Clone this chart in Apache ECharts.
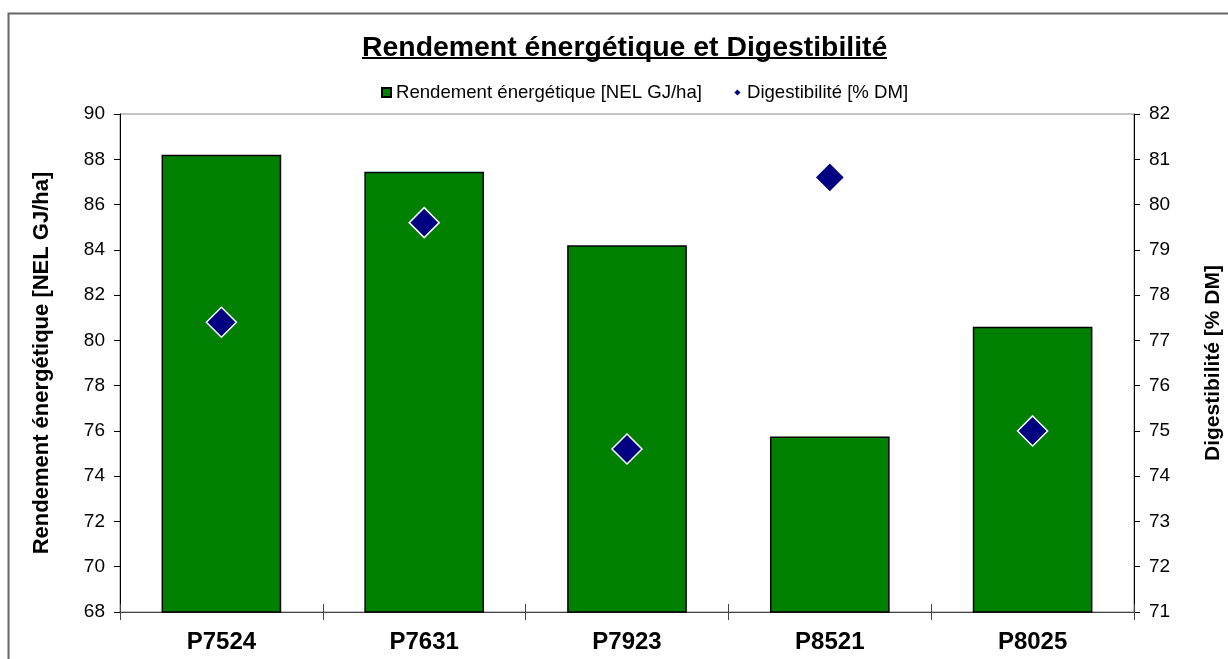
<!DOCTYPE html>
<html>
<head>
<meta charset="utf-8">
<script src="https://cdn.jsdelivr.net/npm/echarts@6/dist/echarts.min.js"></script>
<style>
  html, body { margin: 0; padding: 0; background: #fff; }
  #chart { width: 1228px; height: 659px; }
</style>
</head>
<body>
<div id="chart"></div>
<script>
// données
var varieties = ["P7524", "P7631", "P7923", "P8521", "P8025"];
var rendement = [88.2, 87.45, 84.2, 75.75, 80.6];      // NEL GJ/ha
var digestibilite = [77.4, 79.6, 74.6, 80.6, 75.0];    // % DM
var leftTicks = { min: 68, max: 90, interval: 2 };
var rightTicks = { min: 71, max: 82, interval: 1 };

var font = "Liberation Sans, Arial, sans-serif";

var chart = echarts.init(document.getElementById("chart"));

var option = {
    backgroundColor: "#fff",
    animation: false,
    textStyle: { fontFamily: font },
    title: {
        text: "Rendement énergétique et Digestibilité",
        left: 357,
        top: 29,
        textStyle: { fontFamily: font, fontSize: 28.4, fontWeight: "bold", color: "#000" }
    },
    legend: {
        top: 78,
        left: 376,
        itemWidth: 9,
        itemHeight: 9,
        itemGap: 30,
        textStyle: { fontFamily: font, fontSize: 18.6, color: "#000" },
        data: [
            { name: "Rendement énergétique [NEL GJ/ha]", icon: "rect" },
            { name: "Digestibilité [% DM]", icon: "diamond" }
        ]
    },
    grid: {
        left: 120,
        right: 94,
        top: 114,
        bottom: 47,
        outerBoundsMode: "none",
        show: true,
        borderColor: "#888",
        borderWidth: 1
    },
    graphic: [
        {
            type: "rect",
            shape: { x: 8.5, y: 13.5, width: 1300, height: 700 },
            style: { fill: null, stroke: "#666", lineWidth: 2 },
            silent: true,
            z: -10
        },
        {
            type: "line",
            shape: { x1: 362, y1: 58, x2: 887, y2: 58 },
            style: { stroke: "#000", lineWidth: 2 },
            silent: true
        }
    ],
    xAxis: [
        {
            type: "category",
            data: varieties,
            axisLine: { lineStyle: { color: "#444", width: 1 } },
            axisTick: { show: true, length: 8, lineStyle: { color: "#444" } },
            axisLabel: {
                fontFamily: font, fontSize: 24, fontWeight: "bold", color: "#000", margin: 18
            }
        },
        {
            // ticks crossing the axis upward, as in the original
            type: "category",
            data: varieties,
            position: "bottom",
            axisLine: { show: false },
            axisTick: { show: true, inside: true, length: 8, lineStyle: { color: "#444" } },
            axisLabel: { show: false }
        }
    ],
    yAxis: [
        {
            type: "value",
            min: leftTicks.min,
            max: leftTicks.max,
            interval: leftTicks.interval,
            name: "Rendement énergétique [NEL GJ/ha]",
            nameLocation: "middle",
            nameGap: 67,
            nameTextStyle: { fontFamily: font, fontSize: 22, fontWeight: "bold", color: "#000" },
            axisLine: { show: true, lineStyle: { color: "#000", width: 1 } },
            axisTick: { show: true, length: 6, lineStyle: { color: "#000" } },
            axisLabel: { fontFamily: font, fontSize: 19, color: "#000", margin: 15 },
            splitLine: { show: false }
        },
        {
            type: "value",
            min: rightTicks.min,
            max: rightTicks.max,
            interval: rightTicks.interval,
            position: "right",
            name: "Digestibilité [% DM]",
            nameLocation: "middle",
            nameGap: 69,
            nameTextStyle: { fontFamily: font, fontSize: 21, fontWeight: "bold", color: "#000" },
            axisLine: { show: true, lineStyle: { color: "#000", width: 1 } },
            axisTick: { show: true, length: 6, lineStyle: { color: "#000" } },
            axisLabel: { fontFamily: font, fontSize: 19, color: "#000", margin: 15 },
            splitLine: { show: false }
        }
    ],
    series: [
        {
            name: "Rendement énergétique [NEL GJ/ha]",
            type: "bar",
            yAxisIndex: 0,
            data: rendement,
            barWidth: "59%",
            itemStyle: { color: "#008000", borderColor: "#000", borderWidth: 1.5 }
        },
        {
            name: "Digestibilité [% DM]",
            type: "scatter",
            yAxisIndex: 1,
            data: digestibilite,
            symbol: "diamond",
            symbolSize: 30,
            itemStyle: { color: "#000080", borderColor: "#fff", borderWidth: 1.5, opacity: 1 },
            z: 5
        }
    ]
};

chart.setOption(option);
</script>
</body>
</html>
